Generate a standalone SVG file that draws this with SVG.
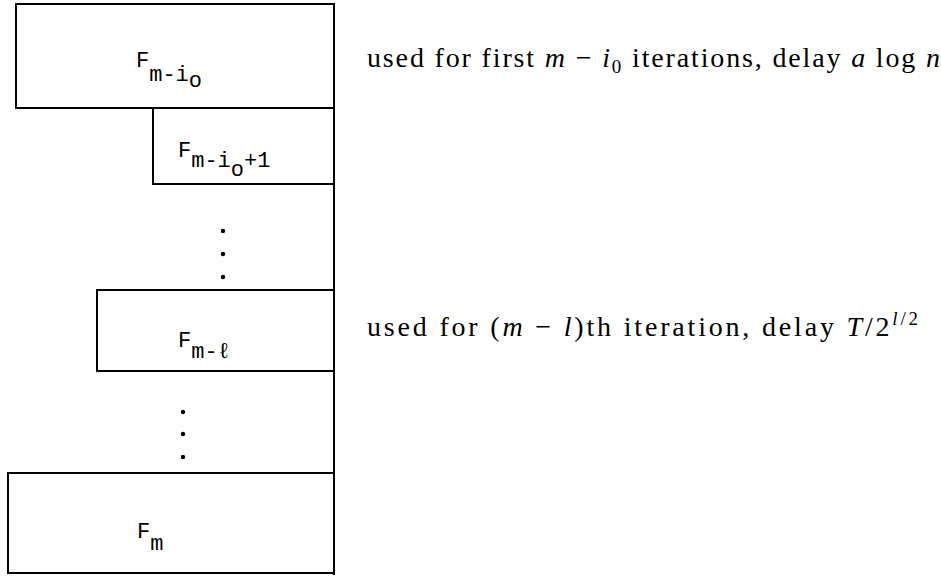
<svg xmlns="http://www.w3.org/2000/svg" width="941" height="578" viewBox="0 0 941 578">
<style>
.box{fill:none;stroke:#000;stroke-width:2}
.mono{font-family:"Liberation Mono","DejaVu Sans Mono",monospace;font-size:22px;fill:#000}
.txt{font-family:"Liberation Serif","Times New Roman",serif;font-size:28px;fill:#000}
.it{font-style:italic}
</style>
<rect width="941" height="578" fill="#fff"/>
<g id="node-fm-i0">
<rect class="box" x="16" y="4" width="318" height="104"/>
<text class="mono" x="136" y="67">F<tspan dy="14">m-i</tspan><tspan dy="6">o</tspan></text>
</g>
<g id="node-fm-i0p1">
<rect class="box" x="153" y="108" width="181" height="76"/>
<text class="mono" x="178" y="157">F<tspan dy="10">m-i</tspan><tspan dy="9">o</tspan><tspan dy="-9">+1</tspan></text>
</g>
<g id="dots1">
<circle cx="223" cy="231" r="2.2"/>
<circle cx="223" cy="254" r="2.2"/>
<circle cx="223" cy="277" r="2.2"/>
</g>
<g id="node-fm-l">
<rect class="box" x="97" y="290" width="237" height="81"/>
<text class="mono" x="178" y="347">F<tspan dy="11">m-ℓ</tspan></text>
</g>
<g id="dots2">
<circle cx="183" cy="412" r="2.2"/>
<circle cx="183" cy="434" r="2.2"/>
<circle cx="183" cy="457" r="2.2"/>
</g>
<g id="node-fm">
<rect class="box" x="8" y="473" width="326" height="100"/>
<text class="mono" x="137" y="538">F<tspan dy="12">m</tspan></text>
</g>
<g id="connectors">
<line class="box" x1="334" y1="3" x2="334" y2="575"/>
</g>
<g id="labels">
<text class="txt" x="367" y="67" textLength="573" lengthAdjust="spacing">used for first <tspan class="it">m</tspan> − <tspan class="it">i</tspan><tspan dy="6" font-size="19">0</tspan><tspan dy="-6"> iterations, delay </tspan><tspan class="it">a</tspan> log <tspan class="it">n</tspan></text>
<text class="txt" x="367" y="336" textLength="551" lengthAdjust="spacing">used for (<tspan class="it">m</tspan> − <tspan class="it">l</tspan>)th iteration, delay <tspan class="it">T</tspan>/2<tspan dy="-11" font-size="19"><tspan class="it">l</tspan>/2</tspan></text>
</g>
</svg>
